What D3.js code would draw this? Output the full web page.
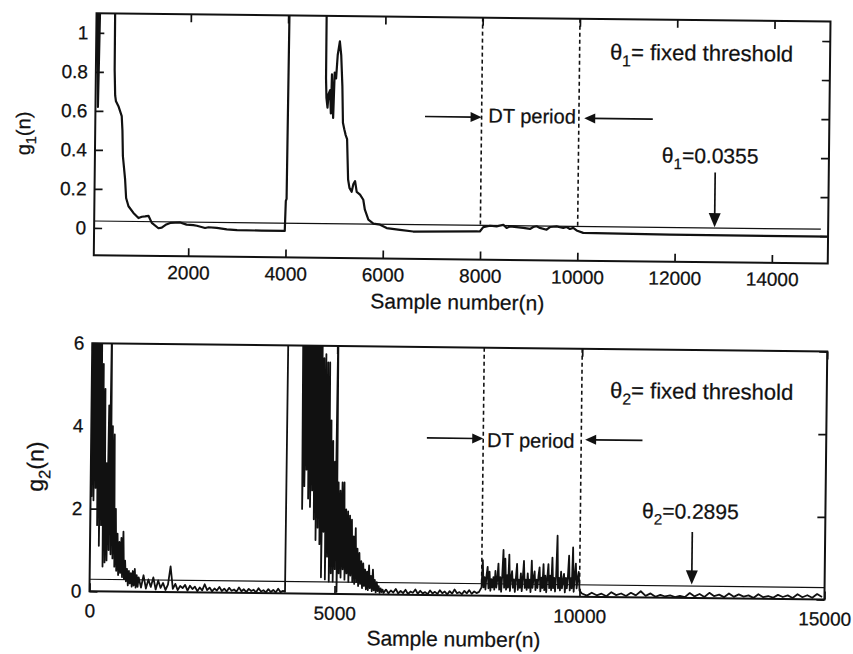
<!DOCTYPE html>
<html>
<head>
<meta charset="utf-8">
<script src="https://cdn.jsdelivr.net/npm/d3@7"></script>
<style>
  body { margin: 0; background: #fff; }
  svg { display: block; }
  text { font-family: "Liberation Sans", Arial, sans-serif; fill: #111; stroke: #111; stroke-width: 0.25px; }
</style>
</head>
<body>
<svg id="chart" width="853" height="654"></svg>
<script>
// ---- top panel: g1(n) ----
const g1Samples = [80, 110, 140, 440, 446, 462, 480, 532, 602, 620, 635, 686, 711,
  762, 865, 970, 1040, 1105, 1175, 1245, 1383, 1450, 1530, 1623, 1827, 1960, 2100, 2172,
  2342, 2410, 2583, 2788, 3000, 3500, 3980, 3995, 4010, 4030, 4790, 4793, 4806, 4830,
  4850, 4880, 4900, 4914, 4948, 4970, 5000, 5028, 5069, 5100, 5131, 5151, 5180, 5210,
  5240, 5270, 5300, 5346, 5380, 5414, 5450, 5519, 5587, 5622, 5696, 5800, 5938, 6074,
  6349, 6620, 7925, 7990, 8060, 8198, 8335, 8472, 8540, 8609, 8746, 8883, 9020, 9088,
  9157, 9225, 9362, 9431, 9568, 9705, 9773, 9842, 9910, 9979, 10116, 11897, 15150];
const g1Values = [1.3, 0.62, 1.3, 1.3, 0.81, 0.68, 0.65, 0.625, 0.574, 0.5, 0.37, 0.25, 0.155,
  0.113, 0.079, 0.053, 0.06, 0.062, 0.065, 0.029, 0.002, 0.005, 0.02, 0.03, 0.033, 0.022, 0.02, 0.017,
  0.006, 0.01, 0.007, 0.0, -0.003, -0.004, -0.004, 0.15, 0.16, 1.3, 1.3, 0.78, 0.68, 0.63,
  0.70, 0.72, 0.6, 0.80, 0.577, 0.81, 0.78, 0.90, 0.97, 0.90, 0.74, 0.553, 0.52, 0.49,
  0.47, 0.263, 0.22, 0.20, 0.24, 0.255, 0.20, 0.186, 0.16, 0.109, 0.058, 0.038, 0.033, 0.016,
  0.008, 0.0, 0.004, 0.004, 0.027, 0.034, 0.031, 0.040, 0.024, 0.032, 0.029, 0.025, 0.020, 0.030,
  0.034, 0.026, 0.017, 0.031, 0.035, 0.027, 0.032, 0.022, 0.028, 0.015, 0.003, -0.001, -0.002];
const g1Threshold = 0.0355;
const g1XTicks = [2000, 4000, 6000, 8000, 10000, 12000, 14000];
const g1XTickLabels = ['2000', '4000', '6000', '8000', '10000', '12000', '14000'];
const g1YTicks = [0, 0.2, 0.4, 0.6, 0.8, 1];
const g1YTickLabels = ['0', '0.2', '0.4', '0.6', '0.8', '1'];

// ---- bottom panel: g2(n), runs of evenly spaced samples ----
const g2Burst1 = [7, 2.3, 7, 2.2, 7, 2.5, 7, 1.6, 7, 1.1, 6.5, 1.6, 5.5, 0.6, 4.9, 0.7, 3.1, 0.75, 4.5, 1.0,
  7, 0.9, 4.0, 0.8, 3.8, 0.6, 2.0, 0.5, 1.4, 0.4, 1.2, 0.45, 1.3, 0.35, 1.45, 0.3, 0.75, 0.25, 0.55, 0.15,
  0.5, 0.2, 0.45, 0.12, 0.5, 0.15, 0.55, 0.1, 0.4, 0.12, 0.35];
const g2Quiet1 = [0.1, 0.4, 0.08, 0.3, 0.12, 0.35, 0.06, 0.28, 0.1, 0.22, 0.05, 0.18, 0.62, 0.08, 0.2,
  0.05, 0.15, 0.1, 0.18, 0.04, 0.16, 0.08, 0.14, 0.03, 0.12, 0.05, 0.2, 0.06, 0.12, 0.03, 0.1, 0.05, 0.14,
  0.04, 0.1, 0.03, 0.12, 0.05, 0.08, 0.03, 0.13, 0.04, 0.09, 0.02, 0.1, 0.05, 0.08, 0.02, 0.12, 0.04,
  0.07, 0.02, 0.1, 0.03, 0.08, 0.02, 0.11, 0.03, 0.06];
const g2Jump = [0.04, 7];
const g2Burst2 = [7, 2.05, 7, 2.6, 7, 3.0, 7, 2.3, 7, 2.1, 7, 2.5, 7, 1.8, 7, 1.3, 7, 1.6, 7, 1.2,
  7, 0.4, 5.7, 1.5, 5.8, 0.35, 5.6, 0.9, 5.6, 0.3, 4.2, 0.5, 3.7, 0.3, 3.2, 0.6, 7, 0.05, 2.7, 0.5,
  2.5, 0.4, 2.7, 0.6, 2.7, 0.35, 2.05, 0.5, 2.0, 0.3, 1.9, 0.45, 1.8, 0.3, 1.4, 0.25, 1.6, 0.3, 1.1, 0.2,
  1.0, 0.25, 0.8, 0.15, 0.75, 0.2, 0.6, 0.12, 0.55, 0.1, 0.7, 0.15, 0.45, 0.08, 0.6, 0.1, 0.35, 0.05, 0.3, 0.08,
  0.2, 0.04, 0.15, 0.06, 0.12, 0.04];
const g2Quiet2 = [0.12, 0.03, 0.1, 0.05, 0.14, 0.03, 0.09, 0.04, 0.12, 0.02, 0.08, 0.05, 0.13, 0.03, 0.1,
  0.04, 0.07, 0.02, 0.11, 0.04, 0.08, 0.03, 0.12, 0.05, 0.09, 0.02, 0.1, 0.04, 0.14, 0.05, 0.08, 0.03,
  0.11, 0.05, 0.13, 0.04, 0.1, 0.06, 0.09];
const g2DtPeriod = [0.2, 0.86, 0.2, 0.45, 0.15, 0.5, 0.7, 0.18, 0.58, 0.12,
  0.4, 0.2, 0.45, 0.15, 0.6, 0.2, 0.4, 0.78, 0.15, 0.45,
  0.1, 0.5, 1.11, 0.2, 0.9, 0.15, 0.5, 0.2, 1.0, 0.12,
  0.45, 0.6, 0.2, 0.4, 0.1, 0.45, 0.78, 0.15, 0.4, 0.2,
  0.55, 0.12, 0.45, 0.85, 0.2, 0.4, 0.15, 0.55, 0.2, 0.4,
  0.1, 0.86, 0.2, 0.45, 0.6, 0.15, 0.4, 0.2, 0.5, 0.7,
  0.12, 0.45, 0.2, 0.78, 0.15, 0.5, 0.1, 0.45, 0.78, 0.2,
  0.5, 0.15, 0.94, 0.2, 0.45, 0.12, 0.5, 1.47, 0.2, 0.45,
  0.15, 0.6, 0.2, 0.4, 0.55, 0.1, 0.45, 0.2, 0.5, 0.99,
  0.15, 0.45, 0.2, 1.19, 0.12, 0.5, 0.8, 0.2, 0.45, 0.6,
  0.15];
const g2Quiet3 = [0.08, 0.03, 0.1, 0.04, 0.08, 0.02, 0.12, 0.05, 0.09, 0.03, 0.11, 0.05, 0.15, 0.04, 0.1,
  0.02, 0.07, 0.03, 0.06, 0.02, 0.05, 0.02, 0.12, 0.04, 0.1, 0.03, 0.13, 0.05, 0.09, 0.03, 0.12, 0.04,
  0.1, 0.05, 0.08, 0.02, 0.11, 0.04, 0.07, 0.03, 0.1, 0.05, 0.09, 0.03, 0.12, 0.05, 0.1, 0.04, 0.13, 0.06];
// [first sample, spacing, values]
const g2Runs = [[0, 20, g2Burst1], [1050, 50, g2Quiet1], [3990, 10, g2Jump], [4300, 20, g2Burst2],
  [6050, 50, g2Quiet2], [8000, 20, g2DtPeriod], [10050, 100, g2Quiet3]];
const g2Threshold = 0.2895;
const g2XTicks = [0, 5000, 10000, 15000];
const g2XTickLabels = ['0', '5000', '10000', '15000'];
const g2YTicks = [0, 2, 4, 6];
const g2YTickLabels = ['0', '2', '4', '6'];

const dtStart = 8000, dtEnd = 10000;

const g1Points = g1Samples.map((n, i) => [n, g1Values[i]]);
const g2Points = g2Runs.flatMap(([start, step, vals]) => vals.map((v, i) => [start + i * step, v]));

const ink = '#111';
const svg = d3.select('#chart');
// the scanned page sits slightly skewed
const root = svg.append('g').attr('transform', 'rotate(0.65, 426, 327)');

function thetaText(g, x, y, sub, rest, size) {
  const t = g.append('text').attr('x', x).attr('y', y).attr('font-size', size);
  t.append('tspan').text('θ');
  t.append('tspan').attr('font-size', size * 0.72).attr('dy', size * 0.3).text(sub);
  t.append('tspan').attr('dy', -size * 0.3).text(rest);
  return t;
}

function headPath(tx, ty, dir, len, half) {
  if (dir === 'right') return `M${tx},${ty}L${tx - len},${ty - half}L${tx - len},${ty + half}Z`;
  if (dir === 'left') return `M${tx},${ty}L${tx + len},${ty - half}L${tx + len},${ty + half}Z`;
  return `M${tx},${ty}L${tx - half},${ty - len}L${tx + half},${ty - len}Z`;
}

function drawPanel(p) {
  const x = d3.scaleLinear().domain(p.xDomain).range([p.left, p.right]);
  const y = d3.scaleLinear().domain(p.yDomain).range([p.bottom, p.top]);
  const g = root.append('g');
  const w = p.right - p.left, h = p.bottom - p.top;

  g.append('clipPath').attr('id', p.id + 'clip')
    .append('rect').attr('x', p.left).attr('y', p.top).attr('width', w).attr('height', h);

  const tick = 8;
  const styleAxis = a => {
    a.select('.domain').remove();
    a.attr('font-family', null).attr('font-size', p.tickFont).style('color', ink);
    a.selectAll('line').attr('stroke-width', 1.7);
  };

  g.append('g').attr('transform', `translate(0,${p.bottom})`)
    .call(d3.axisBottom(x).tickValues(p.xTicks).tickFormat((d, i) => p.xTickLabels[i])
      .tickSizeInner(-tick).tickSizeOuter(0).tickPadding(p.xPad))
    .call(styleAxis);
  g.append('g').attr('transform', `translate(0,${p.top})`)
    .call(d3.axisTop(x).tickValues(p.xTicks).tickFormat('').tickSizeInner(-tick).tickSizeOuter(0))
    .call(styleAxis);
  g.append('g').attr('transform', `translate(${p.left},0)`)
    .call(d3.axisLeft(y).tickValues(p.yTicks).tickFormat((d, i) => p.yTickLabels[i])
      .tickSizeInner(-tick).tickSizeOuter(0).tickPadding(8))
    .call(styleAxis);
  g.append('g').attr('transform', `translate(${p.right},0)`)
    .call(d3.axisRight(y).tickValues(p.yTicks).tickFormat('').tickSizeInner(-tick).tickSizeOuter(0))
    .call(styleAxis);

  const plot = g.append('g').attr('clip-path', `url(#${p.id}clip)`);

  // DT period boundaries
  [dtStart, dtEnd].forEach(n => {
    plot.append('line')
      .attr('x1', x(n)).attr('x2', x(n))
      .attr('y1', y(p.yDomain[1])).attr('y2', y(p.dashEnd))
      .attr('stroke', ink).attr('stroke-width', 1.6).attr('stroke-dasharray', '4,3');
  });

  // fixed threshold
  plot.append('line')
    .attr('x1', x(p.xDomain[0])).attr('x2', x(15000))
    .attr('y1', y(p.threshold)).attr('y2', y(p.threshold))
    .attr('stroke', ink).attr('stroke-width', 1.2);

  const line = d3.line().x(d => x(d[0])).y(d => y(d[1]));
  plot.append('path')
    .attr('d', line(p.points))
    .attr('fill', 'none').attr('stroke', ink)
    .attr('stroke-width', p.lineWidth).attr('stroke-linejoin', 'round');

  g.append('rect')
    .attr('x', p.left).attr('y', p.top).attr('width', w).attr('height', h)
    .attr('fill', 'none').attr('stroke', ink).attr('stroke-width', 2);

  // axis titles
  g.append('text')
    .attr('x', p.left + w / 2 - 3).attr('y', p.titleBaseline)
    .attr('text-anchor', 'middle').attr('font-size', 21)
    .text('Sample number(n)');
  const yc = p.top + h / 2;
  const yl = g.append('text')
    .attr('x', p.yTitleX).attr('y', yc)
    .attr('transform', `rotate(-90,${p.yTitleX},${yc})`)
    .attr('text-anchor', 'middle').attr('font-size', p.yTitleFont);
  yl.append('tspan').text('g');
  yl.append('tspan').attr('font-size', p.yTitleFont * 0.72).attr('dy', p.yTitleFont * 0.3).text(p.sub);
  yl.append('tspan').attr('dy', -p.yTitleFont * 0.3).text('(n)');

  // annotations
  const a = p.notes;
  thetaText(g, x(a.fixed[0]), y(a.fixed[1]), p.sub, '= fixed threshold', 22);

  g.append('text').attr('x', x(a.dtText[0])).attr('y', y(a.dtText[1]))
    .attr('font-size', 20).text('DT period');
  const ay = y(a.dtArrowY);
  g.append('line').attr('x1', x(a.dtLeftTail)).attr('x2', x(dtStart) - 8)
    .attr('y1', ay).attr('y2', ay).attr('stroke', ink).attr('stroke-width', 1.7);
  g.append('path').attr('d', headPath(x(dtStart), ay, 'right', 11, 5)).attr('fill', ink);
  g.append('line').attr('x1', x(a.dtRightTip) + 8).attr('x2', x(a.dtRightTail))
    .attr('y1', ay).attr('y2', ay).attr('stroke', ink).attr('stroke-width', 1.7);
  g.append('path').attr('d', headPath(x(a.dtRightTip), ay, 'left', 11, 5)).attr('fill', ink);

  thetaText(g, x(a.value[0]), y(a.value[1]), p.sub, '=' + a.valueText, 21);
  const dx = x(a.down[0]);
  g.append('line').attr('x1', dx).attr('x2', dx)
    .attr('y1', y(a.down[1])).attr('y2', y(a.down[2]) - 10)
    .attr('stroke', ink).attr('stroke-width', 1.7);
  g.append('path').attr('d', headPath(dx, y(a.down[2]), 'down', 14, 6)).attr('fill', ink);
}

drawPanel({
  id: 'top', left: 93, right: 827, top: 17, bottom: 259,
  xDomain: [60, 15150], yDomain: [-0.14, 1.1],
  xTicks: g1XTicks, xTickLabels: g1XTickLabels, yTicks: g1YTicks, yTickLabels: g1YTickLabels,
  tickFont: 19, xPad: 9.5, titleBaseline: 309, yTitleX: 28, yTitleFont: 20, sub: '1',
  points: g1Points, lineWidth: 2.2, threshold: g1Threshold, dashEnd: 0.03,
  notes: {
    fixed: [10625, 0.893], dtText: [8140, 0.5626], dtArrowY: 0.59,
    dtLeftTail: 6836, dtRightTip: 10110, dtRightTail: 11520,
    value: [11715, 0.368], valueText: g1Threshold.toFixed(4), down: [12815, 0.32, 0.04]
  }
});

drawPanel({
  id: 'bot', left: 92.5, right: 827.5, top: 347, bottom: 595,
  xDomain: [0, 15000], yDomain: [0, 6],
  xTicks: g2XTicks, xTickLabels: g2XTickLabels, yTicks: g2YTicks, yTickLabels: g2YTickLabels,
  tickFont: 19, xPad: 12.5, titleBaseline: 646, yTitleX: 45, yTitleFont: 23, sub: '2',
  points: g2Points, lineWidth: 1.8, threshold: g2Threshold, dashEnd: 0.3,
  notes: {
    fixed: [10578, 4.82], dtText: [8080, 3.60], dtArrowY: 3.80,
    dtLeftTail: 6850, dtRightTip: 10080, dtRightTail: 11250,
    value: [11259, 1.92], valueText: g2Threshold.toFixed(4), down: [12288, 1.6, 0.33]
  }
});
</script>
</body>
</html>
